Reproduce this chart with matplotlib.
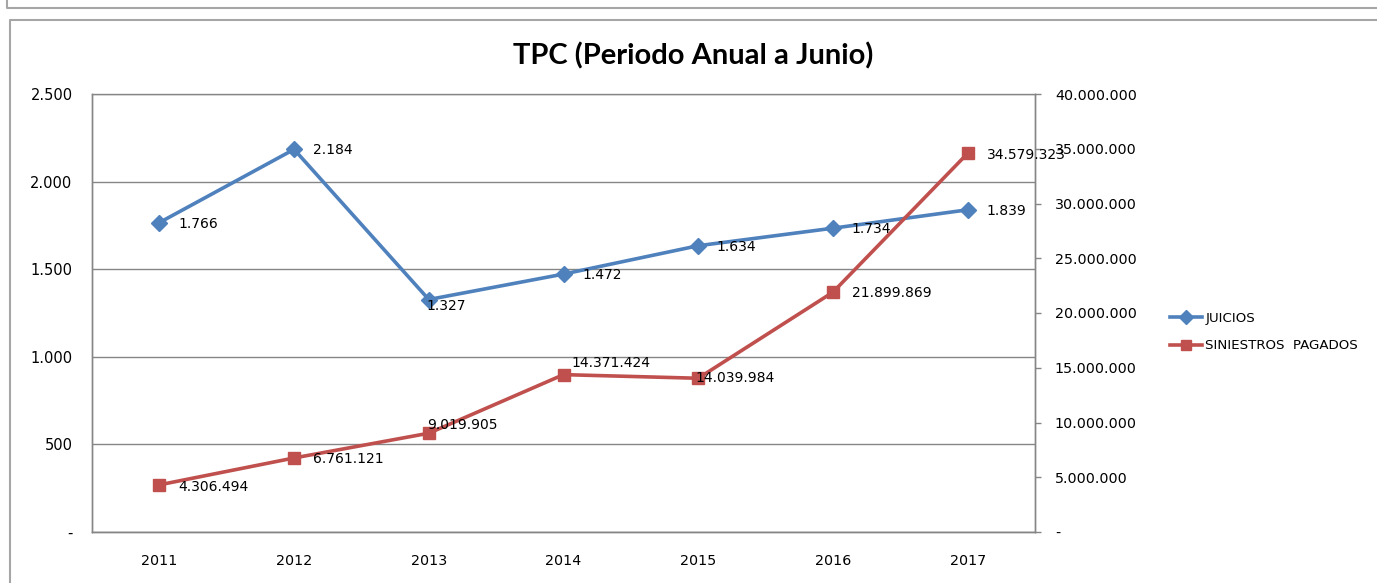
import matplotlib
matplotlib.use("Agg")
import matplotlib.pyplot as plt
from matplotlib.lines import Line2D
from matplotlib.ticker import FuncFormatter, MultipleLocator

years = ["2011", "2012", "2013", "2014", "2015", "2016", "2017"]
juicios = [1766, 2184, 1327, 1472, 1634, 1734, 1839]
siniestros = [4306494, 6761121, 9019905, 14371424, 14039984, 21899869, 34579323]
title = "TPC (Periodo Anual a Junio)"
label_juicios = "JUICIOS"
label_siniestros = "SINIESTROS  PAGADOS"

# label offsets in pixels (dx, dy)
off_j = [(19, -1), (19, -1), (-2, -6), (19, -1), (18, -1), (19, -1), (19, -1)]
off_s = [(19, -2), (19, -1), (-2, 8), (8, 12), (-3, 0), (19, -1), (19, -2)]

BLUE = "#4F81BD"
RED = "#C0504D"
GRID = "#868686"
FRAME = "#A6A6A6"

plt.rcParams["font.family"] = ["DejaVu Sans"]

def fmt(v):
    if v == 0:
        return "-"
    return f"{int(round(v)):,}".replace(",", ".")

fig = plt.figure(figsize=(13.77, 5.83), dpi=100)
W, H = 1377, 583

# outer frames
fig.add_artist(Line2D([7 / W, 7 / W, 1.0], [1.0, 1 - 8 / H, 1 - 8 / H], transform=fig.transFigure,
                      color=FRAME, lw=1.5))
fig.add_artist(Line2D([10 / W, 10 / W, 1.0], [0.0, 1 - 20 / H, 1 - 20 / H], transform=fig.transFigure,
                      color=FRAME, lw=1.5))

ax = fig.add_axes([92 / W, (H - 532) / H, (1035 - 92) / W, (532 - 94) / H])
ax2 = ax.twinx()

x = list(range(len(years)))
l1, = ax.plot(x, juicios, color=BLUE, lw=2.6, marker="D", markersize=8, zorder=3,
              solid_joinstyle="round")
l2, = ax2.plot(x, siniestros, color=RED, lw=2.6, marker="s", markersize=8.5, zorder=3,
               solid_joinstyle="round")

ax.set_xlim(-0.5, len(years) - 0.5)
ax.set_ylim(0, 2500)
ax2.set_ylim(0, 40000000)
ax.yaxis.set_major_locator(MultipleLocator(500))
ax2.yaxis.set_major_locator(MultipleLocator(5000000))
ax.yaxis.set_major_formatter(FuncFormatter(lambda v, p: fmt(v)))
ax2.yaxis.set_major_formatter(FuncFormatter(lambda v, p: fmt(v)))
ax.set_xticks(x)
ax.set_xticklabels(years)

ax.grid(axis="y", color=GRID, lw=1.0)
ax.set_axisbelow(True)

for a in (ax, ax2):
    for s in a.spines.values():
        s.set_color(GRID)
        s.set_linewidth(1.0)
ax2.spines["top"].set_visible(False)

ax.tick_params(axis="x", length=0, pad=16, labelsize=10.3, colors="black")
ax.tick_params(axis="y", length=0, pad=14, labelsize=10.5, colors="black")
ax2.tick_params(axis="y", length=4.3, width=1, color=GRID, pad=10, labelsize=10.3, labelcolor="black")

for xi, v, (dx, dy) in zip(x, juicios, off_j):
    ax.annotate(fmt(v), (xi, v), xytext=(dx, dy), textcoords="offset pixels",
                ha="left", va="center", fontsize=10, color="black", zorder=5)
for xi, v, (dx, dy) in zip(x, siniestros, off_s):
    ax2.annotate(fmt(v), (xi, v), xytext=(dx, dy), textcoords="offset pixels",
                 ha="left", va="center", fontsize=10, color="black", zorder=5,
                 annotation_clip=False)

fig.text(693 / W, 1 - 56 / H, title, ha="center", va="center", fontsize=21,
         fontweight="bold", family=["Lato", "DejaVu Sans"])

fig.legend([l1, l2], [label_juicios, label_siniestros], loc="center left",
           bbox_to_anchor=(1158 / W, 1 - 332 / H), frameon=False, fontsize=9.6,
           handlelength=2.4, handletextpad=0.25, labelspacing=1.1, markerscale=0.85)

fig.savefig("out.png", dpi=100)
